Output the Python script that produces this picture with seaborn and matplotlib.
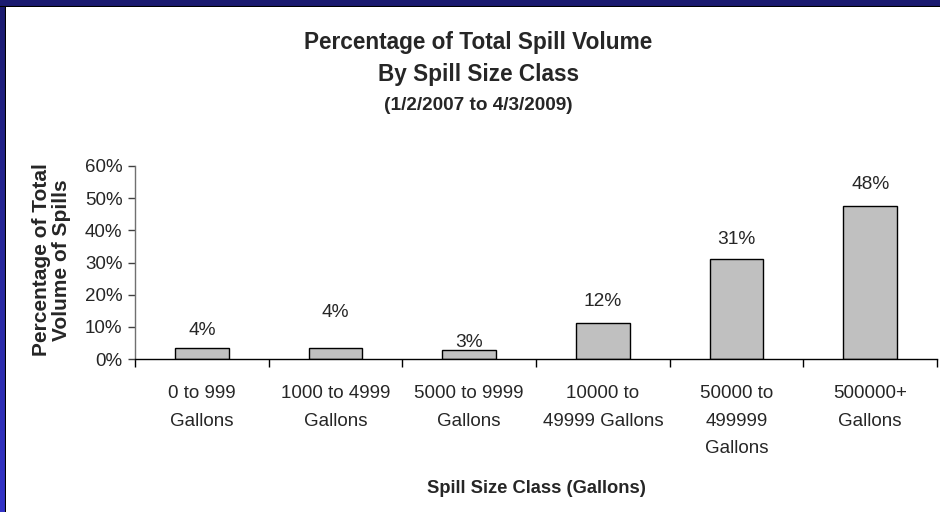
import numpy as np
import matplotlib
matplotlib.use("Agg")
import matplotlib.pyplot as plt
import seaborn as sns
from matplotlib.ticker import FuncFormatter, FixedLocator

categories = [
    "0 to 999\nGallons",
    "1000 to 4999\nGallons",
    "5000 to 9999\nGallons",
    "10000 to\n49999 Gallons",
    "50000 to\n499999\nGallons",
    "500000+\nGallons",
]
values = [3.4, 3.4, 2.7, 11.3, 31.0, 47.6]
value_labels = ["4%", "4%", "3%", "12%", "31%", "48%"]
label_offsets = [18, 36, 8, 21, 20, 21]  # pixels above bar top, as placed in the original

sns.set_style("white")
plt.rcParams["font.family"] = ["Liberation Sans", "DejaVu Sans"]

W, H = 940, 512
fig = plt.figure(figsize=(W / 100, H / 100), dpi=100)
fig.patch.set_facecolor("white")

# Frame: navy band on top, gradient band on the left
top_ax = fig.add_axes([0, 1 - 7 / H, 1, 7 / H])
top_ax.set_facecolor("#1b1b70")
top_ax.set_xticks([])
top_ax.set_yticks([])
for s in top_ax.spines.values():
    s.set_visible(False)
top_ax.axhline(0, color="black", lw=1.5)

left_ax = fig.add_axes([0, 0, 6 / W, 1 - 7 / H])
grad = np.linspace(0, 1, 256).reshape(-1, 1)
cmap = matplotlib.colors.LinearSegmentedColormap.from_list("edge", ["#3434c8", "#1b1b70"])
left_ax.imshow(grad, aspect="auto", cmap=cmap, origin="lower", extent=[0, 1, 0, 1])
left_ax.set_xticks([])
left_ax.set_yticks([])
for s in left_ax.spines.values():
    s.set_visible(False)
left_ax.axvline(1, color="black", lw=1.5)

ax = fig.add_axes([135 / W, 1 - 359 / H, (937 - 135) / W, (359 - 166) / H])
sns.barplot(x=categories, y=values, color="#c0c0c0", edgecolor="black",
            linewidth=1, width=0.4, saturation=1, ax=ax)

ax.set_xlim(-0.5, len(categories) - 0.5)
ax.set_ylim(0, 60)
ax.set_yticks(np.arange(0, 61, 10))
ax.yaxis.set_major_formatter(FuncFormatter(lambda v, _: f"{v:.0f}%"))
ax.tick_params(axis="y", left=True, length=5, width=1, color="#404040",
               labelsize=13.5, pad=4)

ax.set_xticks(range(len(categories)))
ax.set_xticklabels(categories, linespacing=1.8, va="top")
ax.xaxis.set_minor_locator(FixedLocator(np.arange(-0.5, len(categories), 1)))
ax.tick_params(axis="x", which="major", bottom=False, length=0, labelsize=13.5, pad=19)
ax.tick_params(axis="x", which="minor", bottom=True, length=6, width=1, color="black")

for side in ["top", "right"]:
    ax.spines[side].set_visible(False)
ax.spines["left"].set_color("#707070")
ax.spines["bottom"].set_color("black")
ax.spines["left"].set_linewidth(1)
ax.spines["bottom"].set_linewidth(1)

for i, (v, lab, off) in enumerate(zip(values, value_labels, label_offsets)):
    ax.annotate(lab, (i, v), xytext=(0, off), textcoords="offset pixels",
                ha="center", va="center", fontsize=13.8)

ax.set_xlabel("Spill Size Class (Gallons)", fontsize=13.2, fontweight="bold", labelpad=0)
ax.xaxis.set_label_coords(0.5, -(480 - 359) / (359 - 166))
ax.set_ylabel("Percentage of Total\nVolume of Spills", fontsize=15, fontweight="bold",
              linespacing=1.05)
ax.yaxis.set_label_coords(-(135 - 71) / (937 - 135), (359 - 260) / (359 - 166))

fig.text(478 / W, 1 - 42 / H, "Percentage of Total Spill Volume", ha="center",
         va="center", fontsize=16.3, fontweight="bold")
fig.text(478 / W, 1 - 75 / H, "By Spill Size Class", ha="center",
         va="center", fontsize=16.3, fontweight="bold")
fig.text(478 / W, 1 - 106 / H, "(1/2/2007 to 4/3/2009)", ha="center",
         va="center", fontsize=13.7, fontweight="bold")

fig.savefig("out.png", dpi=100)
